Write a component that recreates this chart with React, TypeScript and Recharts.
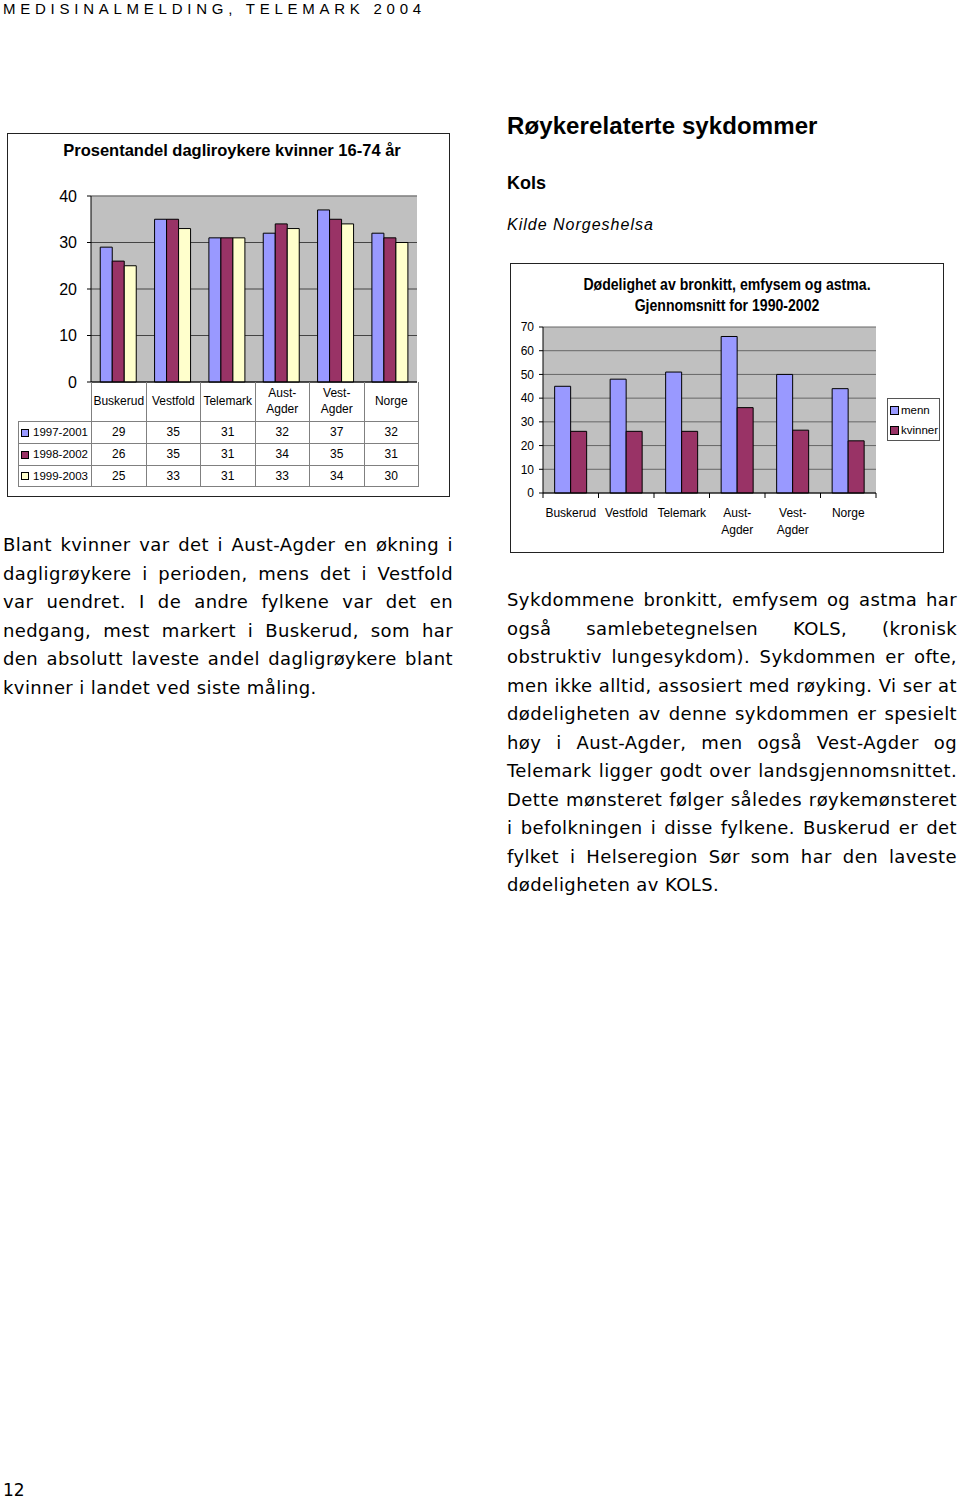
import React from "react";
import {
  BarChart,
  Bar,
  XAxis,
  YAxis,
  CartesianGrid,
  ReferenceLine,
  Legend,
} from "recharts";

// ---------- data ----------
const COUNTIES = ["Buskerud", "Vestfold", "Telemark", "Aust-Agder", "Vest-Agder", "Norge"];
const PERIODS = ["1997-2001", "1998-2002", "1999-2003"];
const SMOKERS_1997_2001 = [29, 35, 31, 32, 37, 32];
const SMOKERS_1998_2002 = [26, 35, 31, 34, 35, 31];
const SMOKERS_1999_2003 = [25, 33, 31, 33, 34, 30];
const SMOKER_TICKS = [0, 10, 20, 30, 40];

const KOLS_SERIES = ["menn", "kvinner"];
const KOLS_MENN = [45, 48, 51, 66, 50, 44];
const KOLS_KVINNER = [26, 26, 26, 36, 26.5, 22];
const KOLS_TICKS = [0, 10, 20, 30, 40, 50, 60, 70];

const LEFT_TEXT = [
  "Blant kvinner var det i Aust-Agder en økning i",
  "dagligrøykere i perioden, mens det i Vestfold",
  "var uendret. I de andre fylkene var det en",
  "nedgang, mest markert i Buskerud, som har",
  "den absolutt laveste andel dagligrøykere blant",
  "kvinner i landet ved siste måling.",
];
const RIGHT_TEXT = [
  "Sykdommene bronkitt, emfysem og astma har",
  "også samlebetegnelsen KOLS, (kronisk",
  "obstruktiv lungesykdom). Sykdommen er ofte,",
  "men ikke alltid, assosiert med røyking. Vi ser at",
  "dødeligheten av denne sykdommen er spesielt",
  "høy i Aust-Agder, men også Vest-Agder og",
  "Telemark ligger godt over landsgjennomsnittet.",
  "Dette mønsteret følger således røykemønsteret",
  "i befolkningen i disse fylkene. Buskerud er det",
  "fylket i Helseregion Sør som har den laveste",
  "dødeligheten av KOLS.",
];

// ---------- styles ----------
const F = '"Liberation Sans", Arial, sans-serif';
const V = '"DejaVu Sans", Verdana, sans-serif';
const PERIOD_COLORS = ["#9999FF", "#993366", "#FFFFCC"];
const KOLS_COLORS = ["#9999FF", "#993366"];
const ROW_HEIGHTS = [22, 22, 21];

const smokerData = COUNTIES.map((c, i) => ({
  name: c,
  p1: SMOKERS_1997_2001[i],
  p2: SMOKERS_1998_2002[i],
  p3: SMOKERS_1999_2003[i],
}));
const smokerRows = [SMOKERS_1997_2001, SMOKERS_1998_2002, SMOKERS_1999_2003];

const kolsData = COUNTIES.map((c, i) => ({
  name: c,
  menn: KOLS_MENN[i],
  kvinner: KOLS_KVINNER[i],
}));

function splitLabel(s: string): string[] {
  const i = s.indexOf("-");
  if (i > 0 && i < s.length - 1) return [s.slice(0, i + 1), s.slice(i + 1)];
  return [s];
}

function KolsTick(props: any) {
  const { x, y, payload, index } = props;
  const off = payload && typeof payload.offset === "number" ? payload.offset : 0;
  const parts = splitLabel(String(payload.value));
  return (
    <g>
      <line x1={x - off} x2={x - off} y1={y} y2={y + 5} stroke="#000" />
      {index === COUNTIES.length - 1 && (
        <line x1={x + off} x2={x + off} y1={y} y2={y + 5} stroke="#000" />
      )}
      <text x={x} y={y + 24} textAnchor="middle" fontSize={12} fontFamily={F} fill="#000">
        {parts.map((p, i) => (
          <tspan key={i} x={x} dy={i ? 17 : 0}>
            {p}
          </tspan>
        ))}
      </text>
    </g>
  );
}

function KolsLegend(props: any) {
  const payload = [...(props.payload || [])].sort(
    (a: any, b: any) => KOLS_SERIES.indexOf(a.value) - KOLS_SERIES.indexOf(b.value)
  );
  return (
    <div
      style={{
        border: "1px solid #555",
        background: "#fff",
        width: 53,
        height: 43,
        boxSizing: "border-box",
        padding: "1px 0 0 2px",
        fontFamily: F,
        fontSize: 11.5,
        color: "#000",
      }}
    >
      {payload.map((p: any, i: number) => (
        <div key={i} style={{ display: "flex", alignItems: "center", height: 20, whiteSpace: "nowrap" }}>
          <span
            style={{
              display: "inline-block",
              width: 7,
              height: 7,
              background: p.color,
              border: "1px solid #000",
              marginRight: 2,
            }}
          />
          {p.value}
        </div>
      ))}
    </div>
  );
}

function JustifiedLines({ lines, left, top, width }: { lines: string[]; left: number; top: number; width: number }) {
  return (
    <div
      style={{
        position: "absolute",
        left,
        top,
        width,
        fontFamily: V,
        fontSize: 18,
        letterSpacing: 0.4,
        lineHeight: "28.5px",
        color: "#000",
      }}
    >
      {lines.map((l, i) => (
        <div
          key={i}
          style={{
            textAlign: "justify",
            textAlignLast: i === lines.length - 1 ? "left" : "justify",
            whiteSpace: "nowrap",
            height: 28.5,
          }}
        >
          {l}
        </div>
      ))}
    </div>
  );
}

const cellBorder = "1px solid #808080";

export default function App() {
  return (
    <div style={{ position: "relative", width: 960, height: 1499, background: "#fff", overflow: "hidden" }}>
      <style>{`body{margin:0}`}</style>

      {/* page header */}
      <div style={{ position: "absolute", left: 3, top: 0, fontFamily: F, fontSize: 15, letterSpacing: 4.75, lineHeight: "17px" }}>
        MEDISINALMELDING, TELEMARK 2004
      </div>

      {/* ---------- left chart ---------- */}
      <div
        style={{
          position: "absolute",
          left: 7,
          top: 133,
          width: 443,
          height: 364,
          border: "1px solid #222",
          boxSizing: "border-box",
        }}
      />
      <div
        style={{
          position: "absolute",
          left: 7,
          top: 141,
          width: 450,
          textAlign: "center",
          fontFamily: F,
          fontWeight: "bold",
          fontSize: 16.5,
          lineHeight: "18px",
        }}
      >
        Prosentandel dagliroykere kvinner 16-74 år
      </div>
      <div style={{ position: "absolute", left: 7, top: 133 }}>
        <BarChart
          width={443}
          height={364}
          data={smokerData}
          margin={{ top: 63, right: 33, bottom: 114, left: 44 }}
          barCategoryGap="17%"
          barGap={0}
        >
          <CartesianGrid vertical={false} stroke="#444" fill="#C0C0C0" fillOpacity={1} />
          <ReferenceLine y={40} stroke="#999" />
          <XAxis dataKey="name" tick={false} tickLine={false} height={1} axisLine={{ stroke: "#000" }} />
          <YAxis
            width={40}
            domain={[0, 40]}
            ticks={SMOKER_TICKS}
            interval={0}
            tickSize={4}
            tickMargin={10}
            axisLine={{ stroke: "#000" }}
            tickLine={{ stroke: "#000" }}
            tick={{ fontSize: 16, fill: "#000", fontFamily: F }}
          />
          <Bar dataKey="p1" name={PERIODS[0]} fill={PERIOD_COLORS[0]} stroke="#000" strokeWidth={1} isAnimationActive={false} />
          <Bar dataKey="p2" name={PERIODS[1]} fill={PERIOD_COLORS[1]} stroke="#000" strokeWidth={1} isAnimationActive={false} />
          <Bar dataKey="p3" name={PERIODS[2]} fill={PERIOD_COLORS[2]} stroke="#000" strokeWidth={1} isAnimationActive={false} />
        </BarChart>
      </div>
      {/* data table */}
      <table
        style={{
          position: "absolute",
          left: 18,
          top: 382,
          borderCollapse: "collapse",
          tableLayout: "fixed",
          width: 400,
          fontFamily: F,
          fontSize: 12,
          color: "#000",
        }}
      >
        <colgroup>
          <col style={{ width: 73 }} />
          {COUNTIES.map((c) => (
            <col key={c} style={{ width: 54.5 }} />
          ))}
        </colgroup>
        <tbody>
          <tr style={{ height: 39 }}>
            <td style={{ border: "none", padding: 0 }} />
            {COUNTIES.map((c) => (
              <td
                key={c}
                style={{ borderLeft: cellBorder, borderRight: cellBorder, borderBottom: cellBorder, textAlign: "center", padding: 0, lineHeight: "16px" }}
              >
                {splitLabel(c).map((p, i) => (
                  <div key={i}>{p}</div>
                ))}
              </td>
            ))}
          </tr>
          {PERIODS.map((p, r) => (
            <tr key={p} style={{ height: ROW_HEIGHTS[r] }}>
              <td style={{ border: cellBorder, padding: "0 0 0 2px", whiteSpace: "nowrap", fontSize: 11.5 }}>
                <span
                  style={{
                    display: "inline-block",
                    width: 6,
                    height: 6,
                    background: PERIOD_COLORS[r],
                    border: "1px solid #000",
                    marginRight: 4,
                    verticalAlign: "middle",
                  }}
                />
                {p}
              </td>
              {smokerRows[r].map((v, i) => (
                <td key={i} style={{ border: cellBorder, textAlign: "center", padding: 0 }}>
                  {v}
                </td>
              ))}
            </tr>
          ))}
        </tbody>
      </table>

      <JustifiedLines lines={LEFT_TEXT} left={3} top={531} width={450} />

      {/* ---------- right column ---------- */}
      <div style={{ position: "absolute", left: 507, top: 112, fontFamily: F, fontWeight: "bold", fontSize: 24, letterSpacing: 0.1, lineHeight: "28px" }}>
        Røykerelaterte sykdommer
      </div>
      <div style={{ position: "absolute", left: 507, top: 172, fontFamily: F, fontWeight: "bold", fontSize: 18, lineHeight: "22px" }}>
        Kols
      </div>
      <div style={{ position: "absolute", left: 507, top: 215, fontFamily: F, fontStyle: "italic", fontSize: 16, letterSpacing: 1.0, lineHeight: "20px" }}>
        Kilde Norgeshelsa
      </div>

      <div
        style={{
          position: "absolute",
          left: 510,
          top: 263,
          width: 434,
          height: 290,
          border: "1px solid #222",
          boxSizing: "border-box",
        }}
      />
      <div
        style={{
          position: "absolute",
          left: 510,
          top: 274,
          width: 434,
          textAlign: "center",
          fontFamily: F,
          fontWeight: "bold",
          fontSize: 16,
          lineHeight: "21px",
          transform: "scaleX(0.88)",
          transformOrigin: "50% 50%",
        }}
      >
        <div>Dødelighet av bronkitt, emfysem og astma.</div>
        <div>Gjennomsnitt for 1990-2002</div>
      </div>
      <div style={{ position: "absolute", left: 511, top: 263 }}>
        <BarChart
          width={432}
          height={289}
          data={kolsData}
          margin={{ top: 64, right: 67, bottom: 14, left: 4 }}
          barCategoryGap="21%"
          barGap={0}
        >
          <CartesianGrid vertical={false} stroke="#666" fill="#C0C0C0" fillOpacity={1} />
          <XAxis
            dataKey="name"
            height={45}
            interval={0}
            tickSize={0}
            tickMargin={0}
            tickLine={false}
            axisLine={{ stroke: "#000" }}
            tick={<KolsTick />}
          />
          <YAxis
            width={28}
            domain={[0, 70]}
            ticks={KOLS_TICKS}
            interval={0}
            tickSize={4}
            tickMargin={5}
            axisLine={{ stroke: "#000" }}
            tickLine={{ stroke: "#000" }}
            tick={{ fontSize: 12, fill: "#000", fontFamily: F }}
          />
          <Legend
            layout="horizontal"
            verticalAlign="middle"
            align="center"
            content={<KolsLegend />}
            wrapperStyle={{ left: 376, top: 135, width: 53, height: 43 }}
          />
          <Bar dataKey="menn" name={KOLS_SERIES[0]} fill={KOLS_COLORS[0]} stroke="#000" strokeWidth={1} isAnimationActive={false} />
          <Bar dataKey="kvinner" name={KOLS_SERIES[1]} fill={KOLS_COLORS[1]} stroke="#000" strokeWidth={1} isAnimationActive={false} />
        </BarChart>
      </div>

      <JustifiedLines lines={RIGHT_TEXT} left={507} top={586} width={450} />

      <div style={{ position: "absolute", left: 3, top: 1480, fontFamily: V, fontSize: 17, lineHeight: "20px" }}>12</div>
    </div>
  );
}
